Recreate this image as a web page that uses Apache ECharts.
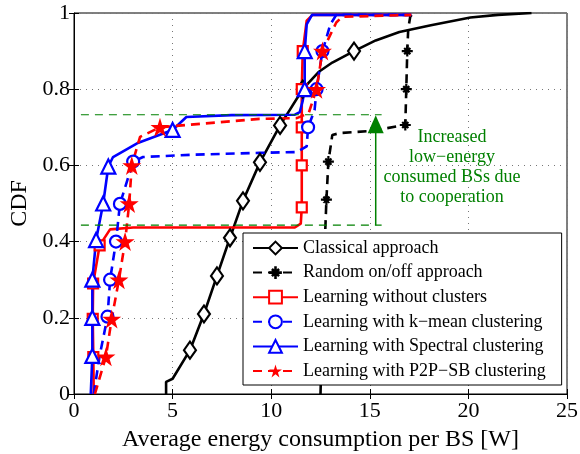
<!DOCTYPE html>
<html>
<head>
<meta charset="utf-8">
<script src="https://cdn.jsdelivr.net/npm/echarts@6/dist/echarts.min.js"></script>
<style>html,body{margin:0;padding:0;background:#fff;}#c{width:580px;height:454px;}</style>
</head>
<body>
<div id="c"></div>
<script>
// ---- data ----
const xTicks = [0, 5, 10, 15, 20, 25];
const yTicks = [0, 0.2, 0.4, 0.6, 0.8, 1];

const classicalX = [4.67, 4.67, 5.0, 5.88, 6.59, 7.25, 7.91, 8.57, 9.43, 10.45, 11.6, 12.4, 13.1, 14.2, 15.3, 16.5, 18.1, 20.1, 21.5, 23.2];
const classicalY = [0, 0.032, 0.04, 0.115, 0.21, 0.31, 0.41, 0.507, 0.608, 0.705, 0.8, 0.845, 0.87, 0.90, 0.928, 0.95, 0.968, 0.988, 0.995, 1.0];
const classicalMarks = [3, 4, 5, 6, 7, 8, 9, 10, 13];

const randomX = [12.5, 12.55, 12.6, 12.65, 12.72, 12.8, 12.9, 13.1, 13.5, 15.0, 16.8, 16.85, 16.9, 16.95, 17.05, 17.2];
const randomY = [0, 0.1, 0.2, 0.3, 0.4, 0.51, 0.61, 0.68, 0.685, 0.69, 0.706, 0.80, 0.90, 0.96, 0.99, 1.0];
const randomMarks = [1, 2, 3, 4, 5, 6, 10, 11, 12];

const noClusterX = [1.0, 0.98, 0.95, 0.97, 1.3, 1.83, 3.0, 11.2, 11.5, 11.55, 11.55, 11.55, 11.55, 11.6, 11.8, 12.1, 17.1];
const noClusterY = [0, 0.097, 0.197, 0.29, 0.39, 0.432, 0.437, 0.437, 0.447, 0.49, 0.6, 0.7, 0.8, 0.9, 0.98, 0.995, 0.995];
const noClusterMarks = [1, 2, 3, 4, 9, 10, 11, 12, 13];

const kmeanX = [1.0, 1.3, 1.70, 1.83, 2.13, 2.33, 3.0, 3.5, 6.0, 9.4, 11.3, 11.8, 11.87, 12.2, 12.3, 12.6, 13.0, 13.3, 17.1];
const kmeanY = [0, 0.1, 0.203, 0.30, 0.40, 0.499, 0.61, 0.622, 0.628, 0.633, 0.635, 0.65, 0.70, 0.745, 0.80, 0.90, 0.97, 0.995, 0.995];
const kmeanMarks = [2, 3, 4, 5, 6, 12, 14, 15];

const spectralX = [0.85, 0.93, 0.93, 0.93, 1.12, 1.48, 1.74, 1.98, 3.2, 5.0, 5.7, 8.0, 11.2, 11.45, 11.6, 11.7, 11.7, 11.8, 12.07, 17.1];
const spectralY = [0, 0.1, 0.2, 0.3, 0.404, 0.50, 0.597, 0.622, 0.658, 0.693, 0.727, 0.732, 0.733, 0.74, 0.77, 0.80, 0.90, 0.97, 0.995, 0.995];
const spectralMarks = [1, 2, 3, 4, 5, 6, 9, 15, 16];

const p2pX = [1.06, 1.62, 1.91, 2.28, 2.59, 2.8, 2.93, 3.35, 4.36, 5.7, 9.4, 11.3, 11.9, 12.3, 12.6, 13.3, 13.6, 17.1];
const p2pY = [0, 0.098, 0.197, 0.30, 0.40, 0.50, 0.60, 0.675, 0.70, 0.706, 0.722, 0.724, 0.737, 0.80, 0.90, 0.975, 0.99, 0.995];
const p2pMarks = [1, 2, 3, 4, 5, 6, 8, 13, 14];

const guideX = [0.35, 15.6];
const guideUpperY = 0.733;
const guideLowerY = 0.443;
const arrowX = 15.3;
const arrowY = [0.443, 0.708];

const seriesNames = [
  'Classical approach',
  'Random on/off approach',
  'Learning without clusters',
  'Learning with k\u2212mean clustering',
  'Learning with Spectral clustering',
  'Learning with P2P\u2212SB clustering'
];
const noteLines = ['Increased', 'low\u2212energy', 'consumed BSs due', 'to cooperation'];

// ---- chart ----
const FONT = 'Liberation Serif';
const STAR = 'path://M50,0 L61.2,34.5 L97.6,34.5 L68.2,55.9 L79.4,90.5 L50,69.1 L20.6,90.5 L31.8,55.9 L2.4,34.5 L38.8,34.5 Z';
const ASTER = 'path://M4,0h2v10h-2z M0,4h10v2h-10z M1.5,2.9L2.9,1.5L8.5,7.1L7.1,8.5z M7.1,1.5L8.5,2.9L2.9,8.5L1.5,7.1z M5,2.2A2.8,2.8,0,1,1,4.99,2.2z';

function build(xs, ys, marks, sym) {
  return xs.map((x, i) => ({ value: [x, ys[i]], symbol: marks.indexOf(i) >= 0 ? sym : 'none' }));
}

const chart = echarts.init(document.getElementById('c'), null, { renderer: 'canvas' });

function lineSeries(name, xs, ys, marks, sym, size, color, dashed, filled) {
  return {
    name: name, type: 'line',
    data: build(xs, ys, marks, sym),
    symbol: sym, symbolSize: size, showAllSymbol: true,
    lineStyle: { color: color, width: 2.6, type: dashed ? [9, 6] : 'solid' },
    itemStyle: { color: filled ? color : '#fff', borderColor: color, borderWidth: filled ? 0 : 2.2 },
    emphasis: { disabled: true },
    animation: false
  };
}

const GREEN = '#008000';
const gridLeft = 74, gridTop = 13, gridRight = 13, gridBottom = 60;

const option = {
  backgroundColor: '#fff',
  animation: false,
  grid: { left: gridLeft, right: gridRight, top: gridTop, bottom: gridBottom, containLabel: false, outerBoundsMode: 'none', show: true, borderColor: '#000', borderWidth: 1, backgroundColor: 'transparent' },
  xAxis: [{
    type: 'value', min: 0, max: 25, interval: 5,
    name: 'Average energy consumption per BS [W]', nameLocation: 'middle', nameGap: 34,
    nameTextStyle: { fontFamily: FONT, fontSize: 24, color: '#000' },
    axisLine: { lineStyle: { color: '#000', width: 1 } },
    axisTick: { inside: true, length: 5, lineStyle: { color: '#000' } },
    axisLabel: { fontFamily: FONT, fontSize: 22, color: '#000', margin: 6 },
    splitLine: { show: true, lineStyle: { color: '#777', width: 1, type: [1, 5] } }
  }, {
    type: 'value', min: 0, max: 25, interval: 5, position: 'top',
    axisLine: { show: false }, axisTick: { inside: true, length: 5, lineStyle: { color: '#000' } },
    axisLabel: { show: false }, splitLine: { show: false }
  }],
  yAxis: [{
    type: 'value', min: 0, max: 1, interval: 0.2,
    name: 'CDF', nameLocation: 'middle', nameGap: 40,
    nameTextStyle: { fontFamily: FONT, fontSize: 24, color: '#000' },
    axisLine: { show: true, lineStyle: { color: '#000', width: 1 } },
    axisTick: { show: true, inside: true, length: 5, lineStyle: { color: '#000' } },
    axisLabel: { fontFamily: FONT, fontSize: 22, color: '#000', margin: 4 },
    splitLine: { show: true, lineStyle: { color: '#777', width: 1, type: [1, 5] } }
  }, {
    type: 'value', min: 0, max: 1, interval: 0.2, position: 'right',
    axisLine: { show: false }, axisTick: { show: true, inside: true, length: 5, lineStyle: { color: '#000' } },
    axisLabel: { show: false }, splitLine: { show: false }
  }],
  legend: {
    orient: 'vertical', left: 243, top: 233,
    backgroundColor: '#fff', borderColor: '#000', borderWidth: 1,
    padding: [6, 16, 5, 9], itemWidth: 45, itemHeight: 16, itemGap: 6.6,
    textStyle: { fontFamily: FONT, fontSize: 18, color: '#000', lineHeight: 18 },
    data: seriesNames
  },
  series: [
    lineSeries(seriesNames[0], classicalX, classicalY, classicalMarks, 'diamond', [12, 17], '#000', false, false),
    lineSeries(seriesNames[1], randomX, randomY, randomMarks, ASTER, 11, '#000', true, true),
    lineSeries(seriesNames[2], noClusterX, noClusterY, noClusterMarks, 'rect', 10, '#ff0000', false, false),
    lineSeries(seriesNames[3], kmeanX, kmeanY, kmeanMarks, 'circle', 12, '#0000ff', true, false),
    lineSeries(seriesNames[4], spectralX, spectralY, spectralMarks, 'triangle', 14, '#0000ff', false, false),
    lineSeries(seriesNames[5], p2pX, p2pY, p2pMarks, STAR, 19, '#ff0000', true, true),
    {
      type: 'line', name: 'guideUpper', data: guideX.map(x => [x, guideUpperY]), symbol: 'none',
      lineStyle: { color: GREEN, width: 1.2, type: [8, 6] }, silent: true
    },
    {
      type: 'line', name: 'guideLower', data: guideX.map(x => [x, guideLowerY]), symbol: 'none',
      lineStyle: { color: GREEN, width: 1.2, type: [8, 6] }, silent: true
    },
    {
      type: 'line', name: 'arrow',
      data: [{ value: [arrowX, arrowY[0]], symbol: 'none' }, { value: [arrowX, arrowY[1]], symbol: 'triangle', symbolSize: [16, 18] }],
      symbol: 'triangle', showAllSymbol: true,
      lineStyle: { color: GREEN, width: 1.5 }, itemStyle: { color: GREEN }, silent: true
    }
  ],
  graphic: [{
    type: 'text', x: 452, y: 127,
    style: {
      text: noteLines.join('\n'), fill: GREEN, font: '18px "Liberation Serif"',
      textAlign: 'center', lineHeight: 20
    }
  }]
};
chart.setOption(option);
</script>
</body>
</html>
